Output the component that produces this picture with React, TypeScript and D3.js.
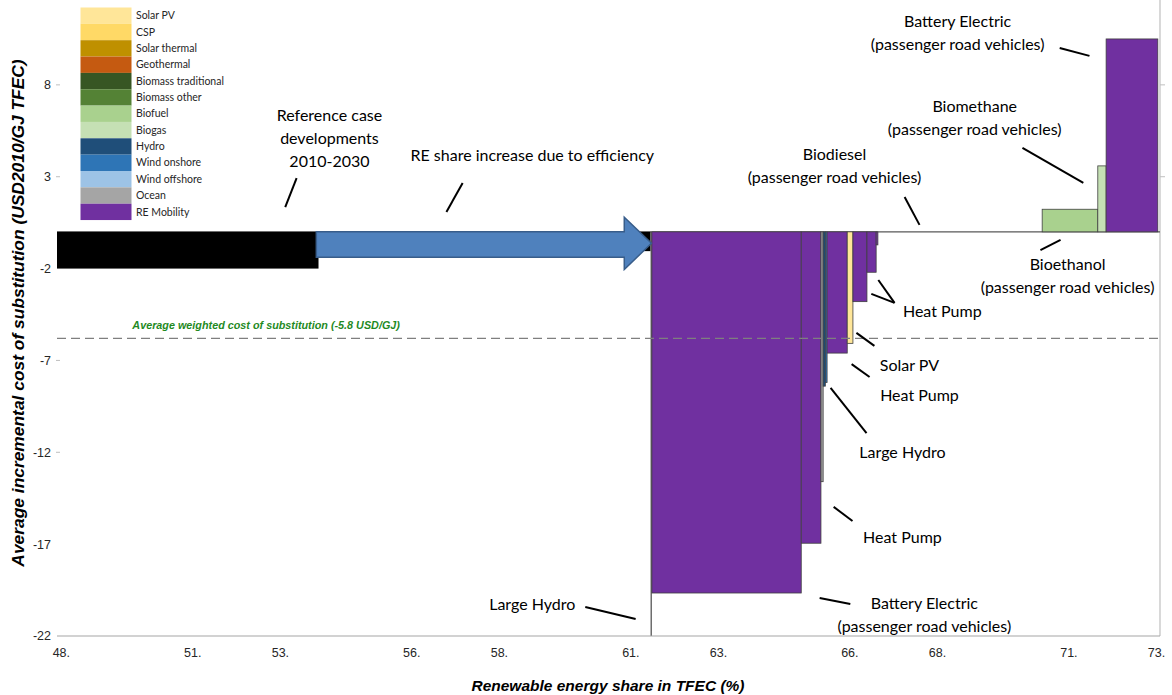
import React from "react";
import * as d3 from "d3";

// ---- Legend ----
const legendLabels = [
  "Solar PV", "CSP", "Solar thermal", "Geothermal", "Biomass traditional",
  "Biomass other", "Biofuel", "Biogas", "Hydro", "Wind onshore",
  "Wind offshore", "Ocean", "RE Mobility",
];
const legendColors = [
  "#FFE699", "#FFD966", "#BF9000", "#C55A11", "#375623",
  "#548235", "#A9D18E", "#C5E0B4", "#1F4E79", "#2E75B6",
  "#9DC3E6", "#A5A5A5", "#7030A0",
];

// ---- Supply-cost curve segments (RE share %, USD2010/GJ) ----
const segTech = [
  "Reference", "Efficiency", "HydroLine", "RE Mobility", "RE Mobility",
  "Ocean", "Hydro", "Wind onshore", "RE Mobility", "Solar PV",
  "RE Mobility", "RE Mobility", "RE Mobility", "Biofuel", "Biogas", "RE Mobility",
];
const segStart = [47.9, 53.87, 61.45, 61.48, 64.89, 65.34, 65.39, 65.44, 65.48, 65.94, 66.07, 66.39, 66.6, 70.39, 71.66, 71.85];
const segEnd = [53.87, 61.45, 61.48, 64.89, 65.34, 65.39, 65.44, 65.48, 65.94, 66.07, 66.39, 66.6, 66.64, 71.66, 71.85, 73.03];
const segValue = [-2.0, -1.05, -22, -19.66, -16.95, -13.6, -8.4, -8.2, -6.6, -6.07, -3.8, -2.2, -0.71, 1.23, 3.59, 10.5];

const techColor: Record<string, string> = {
  Reference: "#000000",
  Efficiency: "#000000",
  HydroLine: "#595959",
};
legendLabels.forEach((l, i) => (techColor[l] = legendColors[i]));

// ---- Axes ----
const xTicks = [48, 51, 53, 56, 58, 61, 63, 66, 68, 71, 73];
const yTicks = [8, 3, -2, -7, -12, -17, -22];
const xDomain = [47.9, 73.08];
const yDomain = [-22, 12.62];
const avgCost = -5.8;

// ---- Efficiency arrow (data coordinates) ----
const arrowShaft = [53.82, 60.85];
const arrowTip = 61.47;
const arrowBand = [0, -1.38];
const arrowHead = [0.8, -2.05];

// ---- Annotations: text lines, centre (x %, y USD/GJ) ----
const noteLines = [
  ["Reference case", "developments", "2010-2030"],
  ["RE share increase due to efficiency"],
  ["Biodiesel", "(passenger road vehicles)"],
  ["Biomethane", "(passenger road vehicles)"],
  ["Battery Electric", "(passenger road vehicles)"],
  ["Bioethanol", "(passenger road vehicles)"],
  ["Heat Pump"],
  ["Solar PV"],
  ["Heat Pump"],
  ["Large Hydro"],
  ["Heat Pump"],
  ["Battery Electric", "(passenger road vehicles)"],
  ["Large Hydro"],
];
const noteX = [54.12, 58.75, 65.65, 68.85, 68.46, 70.97, 68.11, 67.36, 67.59, 67.2, 67.2, 67.7, 58.75];
const noteY = [6.36, 4.18, 4.24, 6.85, 11.43, -1.75, -4.31, -7.25, -8.88, -11.98, -16.66, -20.2, -20.3];

// ---- Leader lines [x1, y1, x2, y2] ----
const leaders = [
  [53.37, 2.93, 53.11, 1.35],
  [57.16, 2.66, 56.79, 1.08],
  [67.25, 1.9, 67.59, 0.38],
  [69.94, 4.57, 71.33, 2.66],
  [70.79, 10.01, 71.47, 9.58],
  [70.35, -0.99, 70.81, -0.44],
  [66.65, -2.62, 67.02, -3.87],
  [66.49, -3.38, 67.02, -3.87],
  [66.15, -5.5, 66.56, -6.21],
  [66.04, -7.2, 66.45, -7.9],
  [65.56, -8.5, 66.38, -10.95],
  [65.63, -14.97, 66.06, -15.74],
  [65.31, -19.93, 66.01, -20.26],
  [59.96, -20.42, 61.11, -21.07],
];

const W = 1172;
const H = 695;
const plot = { left: 57, right: 1160, top: 0, bottom: 636 };

export default function App() {
  const x = d3.scaleLinear().domain(xDomain).range([plot.left, plot.right]);
  const y = d3.scaleLinear().domain(yDomain).range([plot.bottom, plot.top]);
  const y0 = y(0);

  const noteFont = "Lato, 'Open Sans', sans-serif";
  const axisFont = "'Liberation Sans', Arial, sans-serif";

  const arrowPath = d3.path();
  arrowPath.moveTo(x(arrowShaft[0]), y(arrowBand[0]));
  arrowPath.lineTo(x(arrowShaft[1]), y(arrowBand[0]));
  arrowPath.lineTo(x(arrowShaft[1]), y(arrowHead[0]));
  arrowPath.lineTo(x(arrowTip), (y(arrowHead[0]) + y(arrowHead[1])) / 2);
  arrowPath.lineTo(x(arrowShaft[1]), y(arrowHead[1]));
  arrowPath.lineTo(x(arrowShaft[1]), y(arrowBand[1]));
  arrowPath.lineTo(x(arrowShaft[0]), y(arrowBand[1]));
  arrowPath.closePath();

  const legendTop = 7.5;
  const legendRow = 16.35;

  return (
    <svg
      width={W}
      height={H}
      style={{ position: "absolute", left: 0, top: 0, background: "#fff" }}
    >
      {/* right-hand axis line */}
      <line x1={plot.right} x2={plot.right} y1={plot.top} y2={plot.bottom} stroke="#BFBFBF" strokeWidth={1.2} />
      {yTicks.filter((t) => t > 0).map((t) => (
        <line key={"rt" + t} x1={plot.right} x2={plot.right + 5} y1={y(t)} y2={y(t)} stroke="#BFBFBF" />
      ))}

      {/* zero line */}
      <line x1={plot.left} x2={plot.right} y1={y0} y2={y0} stroke="#595959" strokeWidth={1.2} />

      {/* segments */}
      {segTech.map((t, i) => {
        const v = segValue[i];
        const x0 = x(segStart[i]);
        const x1 = x(segEnd[i]);
        const top = Math.min(y(v), y0);
        const h = Math.abs(y(v) - y0);
        const solid = t === "Reference" || t === "Efficiency" || t === "HydroLine";
        return (
          <rect
            key={i}
            x={x0}
            y={top}
            width={Math.max(x1 - x0, 1)}
            height={h}
            fill={techColor[t]}
            stroke={solid ? "none" : "#3F3F3F"}
            strokeWidth={0.8}
          />
        );
      })}

      {/* efficiency arrow */}
      <path d={arrowPath.toString()} fill="#4F81BD" stroke="#385D8A" strokeWidth={1.5} />

      {/* x axis */}
      <line x1={plot.left} x2={plot.right} y1={plot.bottom} y2={plot.bottom} stroke="#A6A6A6" strokeWidth={1.2} />
      {xTicks.map((t) => (
        <text
          key={"xt" + t}
          x={x(t)}
          y={plot.bottom + 21}
          textAnchor="middle"
          fontFamily={axisFont}
          fontSize={12.5}
          fill="#262626"
        >
          {t + "."}
        </text>
      ))}

      {/* y axis labels and stubs */}
      {yTicks.map((t) => (
        <g key={"yt" + t}>
          <text
            x={plot.left - 6}
            y={y(t)}
            dy="0.35em"
            textAnchor="end"
            fontFamily={axisFont}
            fontSize={12.5}
            fill="#262626"
          >
            {t}
          </text>
          {t !== -22 && t !== -2 && t !== -17 && (
            <line x1={plot.left - 1} x2={plot.left + 3} y1={y(t)} y2={y(t)} stroke="#BFBFBF" />
          )}
        </g>
      ))}

      {/* average weighted cost */}
      <line
        x1={plot.left}
        x2={plot.right}
        y1={y(avgCost)}
        y2={y(avgCost)}
        stroke="#7F7F7F"
        strokeWidth={1.2}
        strokeDasharray="9 5"
      />
      <text
        x={x(49.62)}
        y={y(avgCost) - 9}
        fontFamily={axisFont}
        fontSize={10.8}
        fontWeight="bold"
        fontStyle="italic"
        fill="#1F8A1F"
      >
        Average weighted cost of substitution (-5.8 USD/GJ)
      </text>

      {/* axis titles */}
      <text
        x={608}
        y={691}
        textAnchor="middle"
        fontFamily={axisFont}
        fontSize={15.5}
        fontWeight="bold"
        fontStyle="italic"
        fill="#000"
      >
        Renewable energy share in TFEC (%)
      </text>
      <text
        transform={`translate(24, 313) rotate(-90)`}
        textAnchor="middle"
        fontFamily={axisFont}
        fontSize={17.4}
        fontWeight="bold"
        fontStyle="italic"
        fill="#000"
      >
        Average incremental cost of substitution (USD2010/GJ TFEC)
      </text>

      {/* leader lines */}
      {leaders.map((l, i) => (
        <line
          key={"ld" + i}
          x1={x(l[0])}
          y1={y(l[1])}
          x2={x(l[2])}
          y2={y(l[3])}
          stroke="#000"
          strokeWidth={2}
        />
      ))}

      {/* annotations */}
      {noteLines.map((lines, i) => (
        <text
          key={"nt" + i}
          x={x(noteX[i])}
          y={y(noteY[i])}
          textAnchor="middle"
          fontFamily={noteFont}
          fontSize={16}
          fill="#000"
        >
          {lines.map((s, j) => (
            <tspan key={j} x={x(noteX[i])} dy={j === 0 ? "0.35em" : 23}>
              {s}
            </tspan>
          ))}
        </text>
      ))}

      {/* legend */}
      {legendLabels.map((l, i) => (
        <g key={"lg" + i} transform={`translate(80.5, ${legendTop + i * legendRow})`}>
          <rect width={51} height={legendRow} fill={legendColors[i]} />
          <text x={55.5} y={legendRow / 2} dy="0.35em" fontFamily={noteFont} fontSize={10.5} fill="#262626">
            {l}
          </text>
        </g>
      ))}
    </svg>
  );
}
